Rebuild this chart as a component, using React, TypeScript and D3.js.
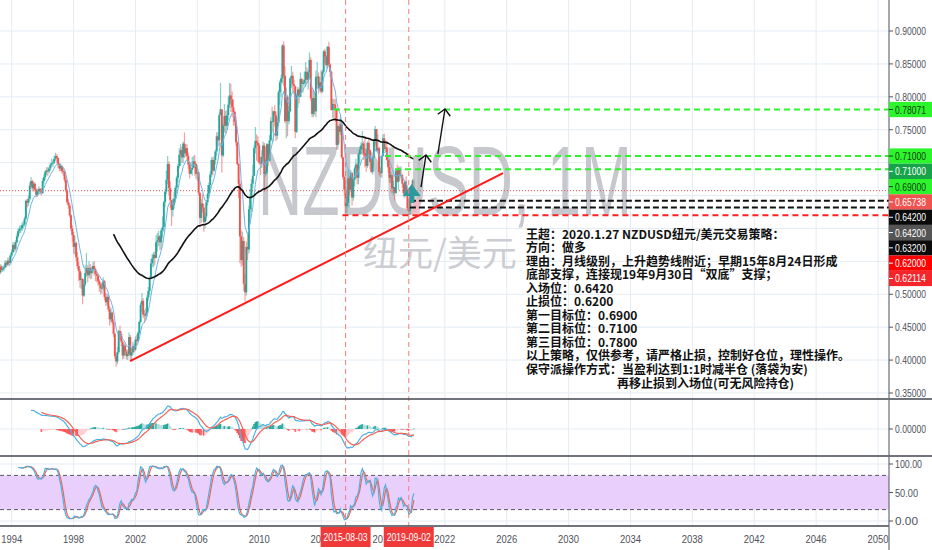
import React from "react";
import * as d3 from "d3";

// ---------------- data (monthly NZDUSD, Mar 1993 .. Jan 2020) ----------------
const firstBarYear = 1993;
const firstBarMonth = 2; // March, 0-based
const firstOpen = 0.529;

const closes: number[] = [
  0.5330, 0.5420, 0.5370, 0.5390, 0.5410, 0.5480, 0.5450, 0.5510, 0.5480, 0.5590,
  0.5640, 0.5750, 0.5690, 0.5790, 0.5880, 0.5960, 0.5990, 0.6000, 0.6050, 0.6060, 0.6150, 0.6420,
  0.6390, 0.6450, 0.6650, 0.6720, 0.6610, 0.6680, 0.6590, 0.6510, 0.6560, 0.6600, 0.6580, 0.6540,
  0.6720, 0.6780, 0.6860, 0.6880, 0.6870, 0.6910, 0.6970, 0.6990, 0.7000, 0.7060, 0.7100, 0.7070,
  0.6980, 0.6910, 0.6950, 0.6870, 0.6860, 0.6740, 0.6580, 0.6400, 0.6350, 0.6200, 0.6000, 0.5900,
  0.5720, 0.5780, 0.5560, 0.5430, 0.5350, 0.5220, 0.5230, 0.4980, 0.5150, 0.5320, 0.5400, 0.5290,
  0.5400, 0.5320, 0.5360, 0.5430, 0.5380, 0.5310, 0.5280, 0.5200, 0.5150, 0.5090, 0.5100, 0.5200,
  0.4960, 0.4880, 0.4960, 0.4770, 0.4620, 0.4720, 0.4580, 0.4400, 0.4060, 0.3980, 0.4120, 0.4440,
  0.4400, 0.4280, 0.4070, 0.4220, 0.4130, 0.4060, 0.4090, 0.4350, 0.4070, 0.4120, 0.4210, 0.4160,
  0.4310, 0.4290, 0.4410, 0.4580, 0.4840, 0.4900, 0.4690, 0.4680, 0.4710, 0.4950, 0.5050, 0.5250,
  0.5470, 0.5540, 0.5600, 0.5550, 0.5790, 0.5820, 0.5880, 0.5790, 0.5970, 0.6020, 0.6400, 0.6560,
  0.6740, 0.6980, 0.6610, 0.6430, 0.6280, 0.6360, 0.6450, 0.6620, 0.6770, 0.6950, 0.7120, 0.7190,
  0.7080, 0.7290, 0.7140, 0.7220, 0.7100, 0.6970, 0.6830, 0.6890, 0.6920, 0.7020, 0.6980, 0.6830,
  0.6850, 0.6540, 0.6160, 0.6380, 0.6320, 0.6100, 0.6180, 0.6400, 0.6530, 0.6660, 0.6820, 0.7040,
  0.6880, 0.7040, 0.7170, 0.7400, 0.7340, 0.7720, 0.7810, 0.7110, 0.7560, 0.7710, 0.7560, 0.7720,
  0.7880, 0.8020, 0.7960, 0.7840, 0.7770, 0.7620, 0.7310, 0.6980, 0.6680, 0.5880, 0.5520, 0.5810,
  0.5160, 0.5030, 0.5720, 0.5680, 0.6290, 0.6470, 0.6680, 0.6800, 0.7220, 0.7330, 0.7300, 0.7260,
  0.7000, 0.6990, 0.7090, 0.7260, 0.6830, 0.6860, 0.7280, 0.7030, 0.7340, 0.7630, 0.7620, 0.7780,
  0.7720, 0.7410, 0.7610, 0.8070, 0.8220, 0.8280, 0.8780, 0.8320, 0.7630, 0.8000, 0.7630, 0.7780,
  0.8280, 0.8320, 0.8190, 0.8160, 0.7470, 0.8020, 0.8110, 0.8000, 0.8270, 0.8200, 0.8210, 0.8260,
  0.8380, 0.8260, 0.8370, 0.8560, 0.7980, 0.7740, 0.7980, 0.7780, 0.8300, 0.8310, 0.8130, 0.8220,
  0.8080, 0.8380, 0.8690, 0.8610, 0.8480, 0.8760, 0.8490, 0.8380, 0.7800, 0.7890, 0.7880, 0.7800,
  0.7270, 0.7550, 0.7470, 0.7580, 0.7080, 0.6780, 0.6590, 0.6340, 0.6390, 0.6760, 0.6590, 0.6840,
  0.6470, 0.6740, 0.6910, 0.6970, 0.6770, 0.7130, 0.7200, 0.7260, 0.7290, 0.7140, 0.7110, 0.6950,
  0.7300, 0.7190, 0.7010, 0.6860, 0.7080, 0.7330, 0.7510, 0.7180, 0.7220, 0.6860, 0.6840, 0.7100,
  0.7370, 0.7210, 0.7230, 0.7040, 0.6930, 0.6770, 0.6810, 0.6610, 0.6630, 0.6540, 0.6880, 0.6710,
  0.6910, 0.6810, 0.6810, 0.6680, 0.6530, 0.6710, 0.6570, 0.6310, 0.6260, 0.6420, 0.6415, 0.6730,
  0.6574,
];

const highs: number[] = [
  0.5400, 0.5460, 0.5450, 0.5430, 0.5450, 0.5520, 0.5510, 0.5560, 0.5560, 0.5620,
  0.5680, 0.5790, 0.5790, 0.5820, 0.5920, 0.6000, 0.6040, 0.6050, 0.6090, 0.6110, 0.6180, 0.6440,
  0.6450, 0.6500, 0.6700, 0.6780, 0.6740, 0.6710, 0.6700, 0.6610, 0.6600, 0.6640, 0.6620, 0.6610,
  0.6760, 0.6820, 0.6890, 0.6930, 0.6930, 0.6940, 0.7000, 0.7060, 0.7040, 0.7110, 0.7150, 0.7130,
  0.7080, 0.7000, 0.6990, 0.6960, 0.6930, 0.6880, 0.6780, 0.6600, 0.6450, 0.6380, 0.6220, 0.6050,
  0.5950, 0.5890, 0.5800, 0.5640, 0.5490, 0.5380, 0.5330, 0.5250, 0.5230, 0.5450, 0.5630, 0.5440,
  0.5500, 0.5460, 0.5420, 0.5490, 0.5500, 0.5400, 0.5350, 0.5300, 0.5230, 0.5180, 0.5180, 0.5260,
  0.5220, 0.5020, 0.5010, 0.4990, 0.4820, 0.4800, 0.4740, 0.4620, 0.4420, 0.4100, 0.4200, 0.4460,
  0.4520, 0.4440, 0.4300, 0.4250, 0.4270, 0.4160, 0.4160, 0.4420, 0.4380, 0.4180, 0.4280, 0.4250,
  0.4360, 0.4380, 0.4440, 0.4600, 0.4880, 0.5020, 0.4940, 0.4760, 0.4790, 0.4990, 0.5110, 0.5270,
  0.5540, 0.5610, 0.5640, 0.5650, 0.5900, 0.5930, 0.5960, 0.5900, 0.6000, 0.6180, 0.6420, 0.6600,
  0.6880, 0.7100, 0.7020, 0.6720, 0.6430, 0.6460, 0.6560, 0.6650, 0.6800, 0.6980, 0.7220, 0.7280,
  0.7240, 0.7320, 0.7460, 0.7280, 0.7280, 0.7150, 0.7020, 0.7010, 0.7090, 0.7100, 0.7120, 0.6990,
  0.6960, 0.6860, 0.6550, 0.6450, 0.6520, 0.6370, 0.6240, 0.6420, 0.6660, 0.6700, 0.6870, 0.7080,
  0.7080, 0.7100, 0.7200, 0.7460, 0.7460, 0.7760, 0.8210, 0.7810, 0.7590, 0.7890, 0.7790, 0.7800,
  0.8000, 0.8210, 0.8200, 0.8080, 0.7960, 0.7790, 0.7700, 0.7320, 0.6990, 0.6740, 0.5970, 0.5950,
  0.5870, 0.5300, 0.5800, 0.5900, 0.6350, 0.6600, 0.6750, 0.6970, 0.7260, 0.7540, 0.7430, 0.7400,
  0.7290, 0.7090, 0.7190, 0.7320, 0.7300, 0.7050, 0.7300, 0.7280, 0.7420, 0.7690, 0.7850, 0.7790,
  0.7870, 0.7780, 0.7680, 0.8100, 0.8250, 0.8330, 0.8800, 0.8843, 0.8460, 0.8140, 0.8030, 0.7860,
  0.8300, 0.8470, 0.8380, 0.8260, 0.8170, 0.8050, 0.8150, 0.8130, 0.8370, 0.8290, 0.8240, 0.8390,
  0.8530, 0.8450, 0.8410, 0.8676, 0.8600, 0.8130, 0.8100, 0.8090, 0.8400, 0.8530, 0.8370, 0.8300,
  0.8400, 0.8410, 0.8710, 0.8730, 0.8630, 0.8770, 0.8835, 0.8510, 0.8400, 0.7970, 0.7970, 0.7960,
  0.7830, 0.7580, 0.7620, 0.7730, 0.7600, 0.7070, 0.6800, 0.6650, 0.6480, 0.6900, 0.6790, 0.6890,
  0.6860, 0.6770, 0.6940, 0.7060, 0.6990, 0.7150, 0.7250, 0.7310, 0.7480, 0.7320, 0.7400, 0.7200,
  0.7320, 0.7370, 0.7200, 0.7060, 0.7100, 0.7340, 0.7558, 0.7500, 0.7430, 0.7240, 0.6930, 0.7120,
  0.7430, 0.7440, 0.7340, 0.7330, 0.7060, 0.7060, 0.6860, 0.6820, 0.6720, 0.6590, 0.6900, 0.6970,
  0.6940, 0.6940, 0.6940, 0.6830, 0.6690, 0.6720, 0.6790, 0.6590, 0.6450, 0.6440, 0.6470, 0.6750,
  0.6760,
];

const lows: number[] = [
  0.5250, 0.5300, 0.5330, 0.5340, 0.5350, 0.5390, 0.5410, 0.5430, 0.5450, 0.5470,
  0.5560, 0.5620, 0.5640, 0.5660, 0.5770, 0.5850, 0.5920, 0.5930, 0.5960, 0.6000, 0.6030, 0.6130,
  0.6320, 0.6340, 0.6420, 0.6620, 0.6560, 0.6580, 0.6560, 0.6470, 0.6480, 0.6530, 0.6520, 0.6500,
  0.6520, 0.6680, 0.6740, 0.6810, 0.6800, 0.6840, 0.6880, 0.6940, 0.6930, 0.6980, 0.7030, 0.6990,
  0.6920, 0.6870, 0.6870, 0.6830, 0.6800, 0.6700, 0.6550, 0.6370, 0.6300, 0.6170, 0.5960, 0.5800,
  0.5620, 0.5600, 0.5500, 0.5380, 0.5200, 0.5100, 0.5080, 0.4850, 0.4960, 0.5120, 0.5270, 0.5180,
  0.5250, 0.5230, 0.5240, 0.5320, 0.5280, 0.5200, 0.5180, 0.5130, 0.5040, 0.5000, 0.5010, 0.5060,
  0.4910, 0.4820, 0.4830, 0.4740, 0.4520, 0.4570, 0.4540, 0.4350, 0.4020, 0.3897, 0.3940, 0.4090,
  0.4310, 0.4210, 0.4010, 0.4020, 0.4070, 0.4010, 0.4000, 0.4070, 0.3990, 0.4000, 0.4080, 0.4110,
  0.4140, 0.4220, 0.4270, 0.4380, 0.4560, 0.4730, 0.4640, 0.4560, 0.4610, 0.4660, 0.4900, 0.4990,
  0.5230, 0.5410, 0.5410, 0.5440, 0.5550, 0.5650, 0.5730, 0.5670, 0.5680, 0.5860, 0.5950, 0.6330,
  0.6520, 0.6670, 0.6500, 0.6310, 0.6040, 0.6180, 0.6300, 0.6390, 0.6540, 0.6700, 0.6910, 0.6950,
  0.7000, 0.6990, 0.7070, 0.7090, 0.7030, 0.6900, 0.6760, 0.6830, 0.6800, 0.6910, 0.6800, 0.6750,
  0.6720, 0.6500, 0.6020, 0.6090, 0.6240, 0.5950, 0.6000, 0.6120, 0.6350, 0.6450, 0.6580, 0.6780,
  0.6810, 0.6860, 0.6970, 0.7110, 0.7250, 0.7250, 0.7770, 0.6850, 0.7080, 0.7460, 0.7440, 0.7500,
  0.7640, 0.7830, 0.7770, 0.7690, 0.7560, 0.7560, 0.7250, 0.6960, 0.6460, 0.5470, 0.5420, 0.5440,
  0.5050, 0.4890, 0.4980, 0.5520, 0.5620, 0.6150, 0.6250, 0.6620, 0.6800, 0.7140, 0.7030, 0.7010,
  0.6970, 0.6810, 0.6920, 0.7050, 0.6560, 0.6790, 0.6820, 0.6950, 0.7020, 0.7320, 0.7460, 0.7320,
  0.7550, 0.7330, 0.7350, 0.7560, 0.7880, 0.8000, 0.8200, 0.8160, 0.7600, 0.7370, 0.7400, 0.7580,
  0.7760, 0.8140, 0.8060, 0.8030, 0.7370, 0.7450, 0.7830, 0.7900, 0.8010, 0.8060, 0.8060, 0.8180,
  0.8150, 0.8200, 0.8110, 0.8280, 0.7940, 0.7690, 0.7690, 0.7720, 0.7690, 0.8180, 0.8050, 0.8080,
  0.8050, 0.8060, 0.8350, 0.8510, 0.8440, 0.8430, 0.8470, 0.8300, 0.7790, 0.7680, 0.7640, 0.7620,
  0.7190, 0.7200, 0.7290, 0.7420, 0.7060, 0.6740, 0.6510, 0.6230, 0.6240, 0.6320, 0.6500, 0.6550,
  0.6350, 0.6420, 0.6640, 0.6760, 0.6670, 0.6670, 0.6990, 0.7130, 0.7200, 0.7040, 0.6930, 0.6860,
  0.6920, 0.7110, 0.6900, 0.6840, 0.6820, 0.7070, 0.7270, 0.7160, 0.7130, 0.6810, 0.6780, 0.6770,
  0.7090, 0.7170, 0.7170, 0.7030, 0.6850, 0.6690, 0.6690, 0.6540, 0.6500, 0.6424, 0.6520, 0.6700,
  0.6580, 0.6720, 0.6760, 0.6620, 0.6480, 0.6460, 0.6560, 0.6270, 0.6210, 0.6204, 0.6340, 0.6390,
  0.6560,
];

const priceTicks = [0.35, 0.4, 0.45, 0.5, 0.55, 0.6, 0.65, 0.7, 0.75, 0.8, 0.85, 0.9];
const yearTicks = [1994, 1998, 2002, 2006, 2010, 2014, 2018, 2022, 2026, 2030, 2034, 2038, 2042, 2046, 2050];
const stochTicks = [0, 50, 100];
const stochBand = [20, 80];
const currentPrice = 0.65738;

const levelLines = [
  { price: 0.78071, from: 2014.83, color: "#2cf52c", dash: "6,4" },
  { price: 0.71, from: 2018.13, color: "#2cf52c", dash: "6,4" },
  { price: 0.69, from: 2018.78, color: "#2cf52c", dash: "6,4" },
  { price: 0.642, from: 2019.74, color: "#111111", dash: "6,3" },
  { price: 0.632, from: 2019.74, color: "#111111", dash: "6,3" },
  { price: 0.62, from: 2015.38, color: "#ff2020", dash: "6,4" },
];

const axisTags = [
  { text: "0.78071", price: 0.78071, fill: "#2cf52c", color: "#163a16" },
  { text: "0.71000", price: 0.71, fill: "#2cf52c", color: "#163a16" },
  { text: "0.71000", price: 0.71, fill: "#17a34a", color: "#ffffff" },
  { text: "0.69000", price: 0.69, fill: "#2cf52c", color: "#163a16" },
  { text: "0.65738", price: 0.65738, fill: "#ef5350", color: "#ffffff" },
  { text: "0.64200", price: 0.642, fill: "#0b0b0b", color: "#ffffff" },
  { text: "0.64200", price: 0.642, fill: "#555555", color: "#ffffff" },
  { text: "0.63200", price: 0.632, fill: "#0b0b0b", color: "#ffffff" },
  { text: "0.62000", price: 0.62, fill: "#ff0000", color: "#ffffff" },
  { text: "0.62114", price: 0.62114, fill: "#f5262b", color: "#ffffff" },
];

const trendLine = [
  { t: 2001.65, p: 0.3985 },
  { t: 2025.76, p: 0.6842 },
];

const markerDates = [
  { label: "2015-08-03", t: 2015 + 7 / 12 },
  { label: "2019-09-02", t: 2019 + 8 / 12 },
];

const arrows = [
  { from: { t: 2020.46, p: 0.6629 }, to: { t: 2020.78, p: 0.7116 } },
  { from: { t: 2021.55, p: 0.7131 }, to: { t: 2022.01, p: 0.7815 } },
];

const positionZones = [
  { t0: 2019.94, t1: 2020.39, p0: 0.645, p1: 0.71, fill: "#b8bcbc", opacity: 0.75 },
  { t0: 2019.9, t1: 2020.39, p0: 0.622, p1: 0.645, fill: "#f4b6c0", opacity: 0.85 },
];

const arrowMark = { t: 2019.86, p: 0.6675 };

const noteLines = [
  "王超：2020.1.27 NZDUSD纽元/美元交易策略：",
  "方向：做多",
  "理由：月线级别，上升趋势线附近；早期15年8月24日形成",
  "底部支撑，连接现19年9月30日“双底”支撑；",
  "入场位：0.6420",
  "止损位：0.6200",
  "第一目标位：0.6900",
  "第二目标位：0.7100",
  "第三目标位：0.7800",
  "以上策略，仅供参考，请严格止损，控制好仓位，理性操作。",
  "保守派操作方式：当盈利达到1:1时减半仓 (落袋为安)",
  "再移止损到入场位(可无风险持仓)",
];

// ---------------- indicators ----------------
type N = number | null;
function emaSeeded(src: N[], n: number): N[] {
  const a = 2 / (n + 1);
  const out: N[] = [];
  let prev: number | null = null;
  const buf: number[] = [];
  for (const v of src) {
    if (v == null) { out.push(null); continue; }
    if (prev == null) {
      buf.push(v);
      if (buf.length === n) { prev = d3.mean(buf)!; out.push(prev); } else out.push(null);
    } else { prev = a * v + (1 - a) * prev; out.push(prev); }
  }
  return out;
}
function sma(src: N[], n: number): N[] {
  return src.map((_, i) => {
    if (i < n - 1) return null;
    const w = src.slice(i - n + 1, i + 1);
    if (w.some((v) => v == null)) return null;
    return d3.mean(w as number[])!;
  });
}

const W = 932, H = 550;
const plotRight = 889;
const mainBottom = 399, macdTop = 399, macdBottom = 456, stochTop = 456, stochBottom = 526;

export default function App() {
  const bars = closes.map((c, i) => {
    const o = i === 0 ? firstOpen : closes[i - 1];
    return {
      t: firstBarYear + (firstBarMonth + i) / 12,
      o, c,
      h: Math.max(highs[i], o, c),
      l: Math.min(lows[i], o, c),
    };
  });

  const x = d3.scaleLinear().domain([1994, 2050]).range([11.7, 878]);
  const y = d3.scaleLinear().domain([0.35, 0.9]).range([393, 31]);
  const ys = d3.scaleLinear().domain([0, 100]).range([521, 464]);

  const maLong = emaSeeded(closes, 90);
  const maShort = emaSeeded(closes, 9);
  const e12 = emaSeeded(closes, 12);
  const e26 = emaSeeded(closes, 26);
  const macd: N[] = closes.map((_, i) => (e12[i] != null && e26[i] != null ? (e12[i] as number) - (e26[i] as number) : null));
  const signal = emaSeeded(macd, 9);
  const hist: N[] = macd.map((m, i) => (m != null && signal[i] != null ? m - (signal[i] as number) : null));
  const mvals = [...macd, ...signal].filter((v) => v != null) as number[];
  const mMax = d3.max(mvals)!, mMin = d3.min(mvals)!;
  const k = Math.min((429 - 406) / mMax, (451 - 429) / -mMin);
  const ym = d3.scaleLinear().domain([0, 1]).range([429, 429 - k]);

  const raw: N[] = closes.map((c, i) => {
    if (i < 13) return null;
    const win = bars.slice(i - 13, i + 1);
    const hh = d3.max(win, (b) => b.h)!;
    const ll = d3.min(win, (b) => b.l)!;
    return (100 * (c - ll)) / (hh - ll);
  });
  const stK = sma(raw, 3);
  const stD = sma(stK, 3);

  const mkLine = (arr: N[], sy: d3.ScaleLinear<number, number>) =>
    d3.line<number>()
      .defined((i) => arr[i] != null)
      .x((i) => x(bars[i].t))
      .y((i) => sy(arr[i] as number))(d3.range(arr.length)) || "";

  const grid = "#e4ecf3";
  const axisText = "#4f525c";
  const fontAxis = "'Liberation Sans', Arial, sans-serif";

  // stacked tags (TradingView pushes overlapping labels down)
  const tagH = 15.3;
  let prevY = -Infinity;
  const tags = axisTags.map((tg) => {
    const cy = Math.max(y(tg.price), prevY + tagH);
    prevY = cy;
    return { ...tg, cy };
  });
  const hiddenByTag = (py: number) => tags.some((tg) => Math.abs(tg.cy - py) < tagH / 2 + 4);

  const arrowHead = (fx: number, fy: number, tx: number, ty: number, len: number) => {
    const ang = Math.atan2(fy - ty, fx - tx);
    const a1 = ang + Math.PI / 4, a2 = ang - Math.PI / 4;
    return `M${tx + len * Math.cos(a1)},${ty + len * Math.sin(a1)}L${tx},${ty}L${tx + len * Math.cos(a2)},${ty + len * Math.sin(a2)}`;
  };

  const ax = x(arrowMark.t), ay = y(arrowMark.p);

  return (
    <svg width={W} height={H} style={{ position: "fixed", left: 0, top: 0, background: "#fff" }}
      xmlns="http://www.w3.org/2000/svg">
      <defs>
        <clipPath id="cMain"><rect x={0} y={0} width={plotRight} height={mainBottom} /></clipPath>
        <clipPath id="cMacd"><rect x={0} y={macdTop} width={plotRight} height={macdBottom - macdTop} /></clipPath>
        <clipPath id="cSt"><rect x={0} y={stochTop} width={plotRight} height={stochBottom - stochTop} /></clipPath>
      </defs>
      <rect x={0} y={0} width={W} height={H} fill="#ffffff" />

      {/* grid */}
      {yearTicks.map((yr) => (
        <line key={"vg" + yr} x1={x(yr)} x2={x(yr)} y1={0} y2={stochBottom} stroke={grid} strokeWidth={1} />
      ))}
      {priceTicks.map((p) => (
        <line key={"hg" + p} x1={0} x2={plotRight} y1={y(p)} y2={y(p)} stroke={grid} strokeWidth={1} />
      ))}
      <line x1={0} x2={plotRight} y1={ym(0)} y2={ym(0)} stroke={grid} />
      {stochTicks.map((s) => (
        <line key={"sg" + s} x1={0} x2={plotRight} y1={ys(s)} y2={ys(s)} stroke={grid} />
      ))}

      <g clipPath="url(#cMain)">
        {/* watermark */}
        <text x={258} y={215} fontSize={99} fontFamily={fontAxis} fill="#c6c8cd"
          textLength={374} lengthAdjust="spacingAndGlyphs">NZDUSD, 1M</text>
        <text x={363} y={266} fontSize={35} fontFamily="'Noto Sans CJK SC', sans-serif" fill="#cbcdd2">纽元/美元</text>

        {/* current price dotted line */}
        <line x1={0} x2={plotRight} y1={y(currentPrice)} y2={y(currentPrice)} stroke="#ef5350" strokeWidth={1} strokeDasharray="1,2" />

        {/* candles */}
        {bars.map((b, i) => {
          const up = b.c >= b.o;
          const col = up ? "#26a69a" : "#ef5350";
          const cx = x(b.t);
          const top = y(Math.max(b.o, b.c)), bot = y(Math.min(b.o, b.c));
          return (
            <g key={"c" + i}>
              <line x1={cx} x2={cx} y1={y(b.h)} y2={y(b.l)} stroke={col} strokeOpacity={0.55} strokeWidth={1.2} />
              <rect x={cx - 0.95} y={top} width={1.9} height={Math.max(1, bot - top)} fill={col} />
            </g>
          );
        })}

        <path d={mkLine(maShort, y)} fill="none" stroke="#6fb4e6" strokeWidth={1} />
        <path d={mkLine(maLong, y)} fill="none" stroke="#111111" strokeWidth={1.6} />

        {/* position zones */}
        {positionZones.map((z, i) => (
          <rect key={"z" + i} x={x(z.t0)} y={y(z.p1)} width={x(z.t1) - x(z.t0)} height={y(z.p0) - y(z.p1)}
            fill={z.fill} opacity={z.opacity} />
        ))}

        {/* level lines */}
        {levelLines.map((l, i) => (
          <line key={"lv" + i} x1={x(l.from)} x2={plotRight} y1={y(l.price)} y2={y(l.price)}
            stroke={l.color} strokeWidth={2} strokeDasharray={l.dash} />
        ))}

        {/* trend line */}
        <line x1={x(trendLine[0].t)} y1={y(trendLine[0].p)} x2={x(trendLine[1].t)} y2={y(trendLine[1].p)}
          stroke="#ff1a1a" strokeWidth={2} />

        {/* black arrows */}
        {arrows.map((a, i) => {
          const fx = x(a.from.t), fy = y(a.from.p), tx = x(a.to.t), ty = y(a.to.p);
          return (
            <g key={"ar" + i} stroke="#111" strokeWidth={1.4} fill="none">
              <line x1={fx} y1={fy} x2={tx} y2={ty} />
              <path d={arrowHead(fx, fy, tx, ty, 9)} />
            </g>
          );
        })}

        {/* teal arrow mark */}
        <path d={`M${ax},${ay} L${ax + 9},${ay + 12} L${ax + 2.6},${ay + 12} L${ax + 2.6},${ay + 19} L${ax - 2.6},${ay + 19} L${ax - 2.6},${ay + 12} L${ax - 9},${ay + 12} Z`}
          fill="#2b9a9e" />
      </g>

      {/* annotation text */}
      <g fontFamily="'Noto Sans CJK SC', sans-serif" fontSize={12} fontWeight={600} fill="#111">
        {noteLines.map((s, i) => (
          <text key={"n" + i} x={i === noteLines.length - 1 ? 617 : 526} y={238.5 + i * 13.55}>{s}</text>
        ))}
      </g>

      {/* MACD pane */}
      <g clipPath="url(#cMacd)">
        {hist.map((h, i) => {
          if (h == null) return null;
          const p = i > 0 ? hist[i - 1] : null;
          const rising = p != null && p < h;
          const col = h >= 0 ? (rising ? "#26a69a" : "#b2dfdb") : (rising ? "#ffcdd2" : "#ff5252");
          const y0 = ym(0), y1 = ym(h);
          return <rect key={"h" + i} x={x(bars[i].t) - 0.8} y={Math.min(y0, y1)} width={1.6} height={Math.max(0.6, Math.abs(y1 - y0))} fill={col} />;
        })}
        <path d={mkLine(macd, ym)} fill="none" stroke="#4fb0e0" strokeWidth={1.2} />
        <path d={mkLine(signal, ym)} fill="none" stroke="#f26457" strokeWidth={1.2} />
      </g>

      {/* Stoch pane */}
      <g clipPath="url(#cSt)">
        <rect x={0} y={ys(stochBand[1])} width={plotRight} height={ys(stochBand[0]) - ys(stochBand[1])} fill="#e9cffc" />
        {stochBand.map((s) => (
          <line key={"sb" + s} x1={0} x2={plotRight} y1={ys(s)} y2={ys(s)} stroke="#555862" strokeDasharray="4,3" strokeWidth={1} />
        ))}
        <path d={mkLine(stD, ys)} fill="none" stroke="#f26457" strokeWidth={1.2} />
        <path d={mkLine(stK, ys)} fill="none" stroke="#4fb0e0" strokeWidth={1.2} />
      </g>

      {/* vertical marker lines */}
      {markerDates.map((m) => (
        <line key={"vm" + m.label} x1={x(m.t)} x2={x(m.t)} y1={0} y2={stochBottom} stroke="#f77b7b" strokeWidth={1} strokeDasharray="5,4" />
      ))}

      {/* separators and axes */}
      <line x1={0} x2={W} y1={macdTop} y2={macdTop} stroke="#434651" strokeWidth={1.4} />
      <line x1={0} x2={W} y1={stochTop} y2={stochTop} stroke="#434651" strokeWidth={1.4} />
      <line x1={0} x2={plotRight} y1={stochBottom} y2={stochBottom} stroke="#434651" strokeWidth={1.4} />
      <line x1={plotRight} x2={plotRight} y1={0} y2={H} stroke="#6a6d78" strokeWidth={1.2} />

      {/* price axis labels */}
      <g fontFamily={fontAxis} fontSize={10.5} fill={axisText}>
        {priceTicks.filter((p) => !hiddenByTag(y(p))).map((p) => (
          <g key={"pt" + p}>
            <line x1={plotRight} x2={plotRight + 4} y1={y(p)} y2={y(p)} stroke={axisText} />
            <text x={895} y={y(p) + 4} textLength={31} lengthAdjust="spacingAndGlyphs">{d3.format(".5f")(p)}</text>
          </g>
        ))}
        <line x1={plotRight} x2={plotRight + 4} y1={ym(0)} y2={ym(0)} stroke={axisText} />
        <text x={895} y={ym(0) + 4} textLength={31} lengthAdjust="spacingAndGlyphs">{d3.format(".5f")(0)}</text>
        {stochTicks.map((s) => (
          <g key={"st" + s}>
            <line x1={plotRight} x2={plotRight + 4} y1={ys(s)} y2={ys(s)} stroke={axisText} />
            <text x={895} y={ys(s) + 4} textLength={s === 100 ? 27 : 23} lengthAdjust="spacingAndGlyphs">{d3.format(".2f")(s)}</text>
          </g>
        ))}
      </g>

      {/* stacked price tags */}
      {tags.map((tg, i) => (
        <g key={"tg" + i}>
          <rect x={plotRight} y={tg.cy - tagH / 2} width={W - plotRight} height={tagH} fill={tg.fill} />
          <line x1={plotRight} x2={plotRight + 4} y1={tg.cy} y2={tg.cy} stroke={tg.color} />
          <text x={895} y={tg.cy + 4} fontFamily={fontAxis} fontSize={10.5} fill={tg.color}
            textLength={31} lengthAdjust="spacingAndGlyphs">{tg.text}</text>
        </g>
      ))}

      {/* time axis labels */}
      <g fontFamily={fontAxis} fontSize={11} fill={axisText} textAnchor="middle">
        {yearTicks.map((yr) => (
          <text key={"yt" + yr} x={x(yr)} y={543} textLength={21} lengthAdjust="spacingAndGlyphs">{yr}</text>
        ))}
      </g>
      {markerDates.map((m) => (
        <g key={"ml" + m.label}>
          <rect x={x(m.t) - 25} y={527} width={50} height={20} fill="#f03a3a" />
          <text x={x(m.t)} y={541} textAnchor="middle" fontFamily={fontAxis} fontSize={11} fill="#fff"
            textLength={44} lengthAdjust="spacingAndGlyphs">{m.label}</text>
        </g>
      ))}
    </svg>
  );
}
